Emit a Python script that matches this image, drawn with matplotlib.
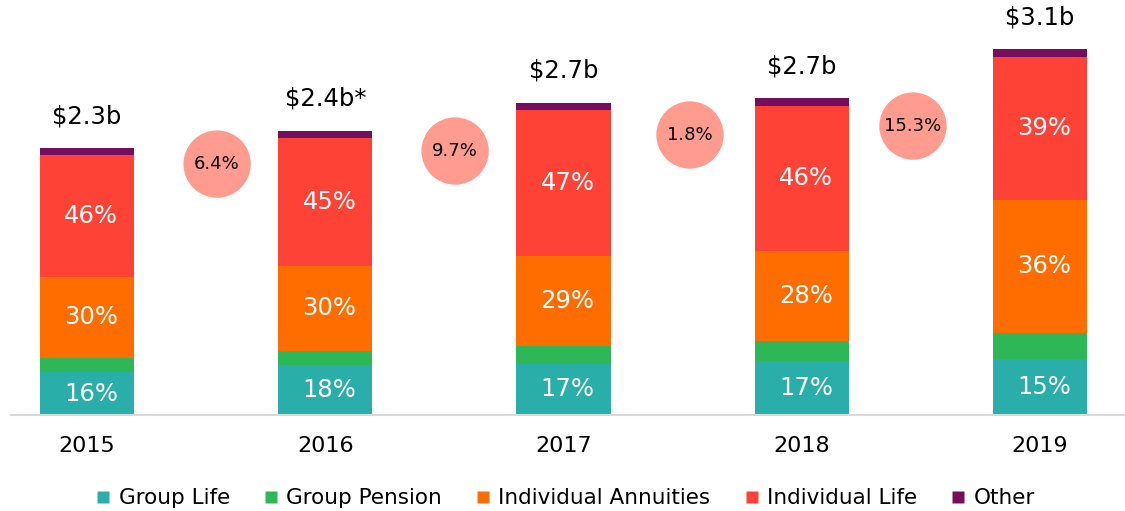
import matplotlib
matplotlib.use("Agg")
import matplotlib.pyplot as plt
from matplotlib.lines import Line2D
import numpy as np

# ---- data ----
years = ["2015", "2016", "2017", "2018", "2019"]
totals = [2.30, 2.45, 2.69, 2.73, 3.15]          # $b
total_labels = ["$2.3b", "$2.4b*", "$2.7b", "$2.7b", "$3.1b"]
growth_labels = ["6.4%", "9.7%", "1.8%", "15.3%"]

series = ["Group Life", "Group Pension", "Individual Annuities", "Individual Life", "Other"]
group_life = [16.1, 17.8, 16.6, 17.0, 15.3]        # share of total, %
group_pension = [5.5, 4.9, 5.6, 6.6, 7.2]
individual_annuities = [30.1, 29.8, 28.7, 28.3, 36.4]
individual_life = [45.8, 44.8, 46.6, 45.6, 39.0]
other = [2.5, 2.7, 2.5, 2.5, 2.1]
labelled = [True, False, True, True, False]

# ---- style / layout ----
colors = ["#2AAEAA", "#2DB757", "#FF6D00", "#FF4236", "#750E5C"]
circle_color = "#FF9B8F"
circle_dx = [0.046, 0.045, 0.031, -0.033]     # nudge from midpoint between bars
circle_drop = [0.138, 0.176, 0.278, 0.241]    # below the lower neighbouring bar top

fig = plt.figure(figsize=(11.25, 5.11), dpi=100)
ax = fig.add_axes([0.0098, 0.187, 0.9902, 0.813])

x = np.arange(len(years))
tot = np.array(totals)
shares = [group_life, group_pension, individual_annuities, individual_life, other]
bottom = np.zeros(len(years))
width = 0.395
for name, sh, col, lab in zip(series, shares, colors, labelled):
    vals = tot * np.array(sh) / 100.0
    ax.bar(x, vals, width, bottom=bottom, color=col, edgecolor="none", zorder=2)
    if lab:
        for xi, b, v, s in zip(x, bottom, vals, sh):
            ax.annotate(f"{s:.0f}%", (xi, b + v / 2), xytext=(3, 0),
                        textcoords="offset points", ha="center", va="center",
                        color="white", fontsize=17.5, zorder=3)
    bottom = bottom + vals

for xi, t, lab in zip(x, tot, total_labels):
    ax.annotate(lab, (xi, t), xytext=(0, 23), textcoords="offset points",
                ha="center", va="center", fontsize=17.5, color="black",
                annotation_clip=False)

for i, lab in enumerate(growth_labels):
    cx = x[i] + 0.5 + circle_dx[i]
    cy = min(tot[i], tot[i + 1]) - circle_drop[i]
    ax.scatter([cx], [cy], s=2350, color=circle_color, edgecolors="none", zorder=2)
    ax.text(cx, cy, lab, ha="center", va="center", fontsize=13, color="black", zorder=3)

ax.set_xlim(-0.319, 4.357)
ax.set_ylim(0, 3.573)
for sp in ["top", "right", "left"]:
    ax.spines[sp].set_visible(False)
ax.spines["bottom"].set_color("#D9D9D9")
ax.spines["bottom"].set_linewidth(1.5)
ax.set_yticks([])
ax.set_xticks(x)
ax.set_xticklabels(years, fontsize=16)
ax.tick_params(axis="x", length=0, pad=15)

handles = [Line2D([], [], marker="s", linestyle="none", markersize=9,
                  markerfacecolor=c, markeredgecolor="none") for c in colors]
fig.legend(handles, series, loc="center", bbox_to_anchor=(0.503, 0.025),
           ncol=5, frameon=False, fontsize=15.5, handlelength=0.6,
           handletextpad=0.4, columnspacing=1.62, borderaxespad=0)

fig.savefig("out.png", dpi=100)
